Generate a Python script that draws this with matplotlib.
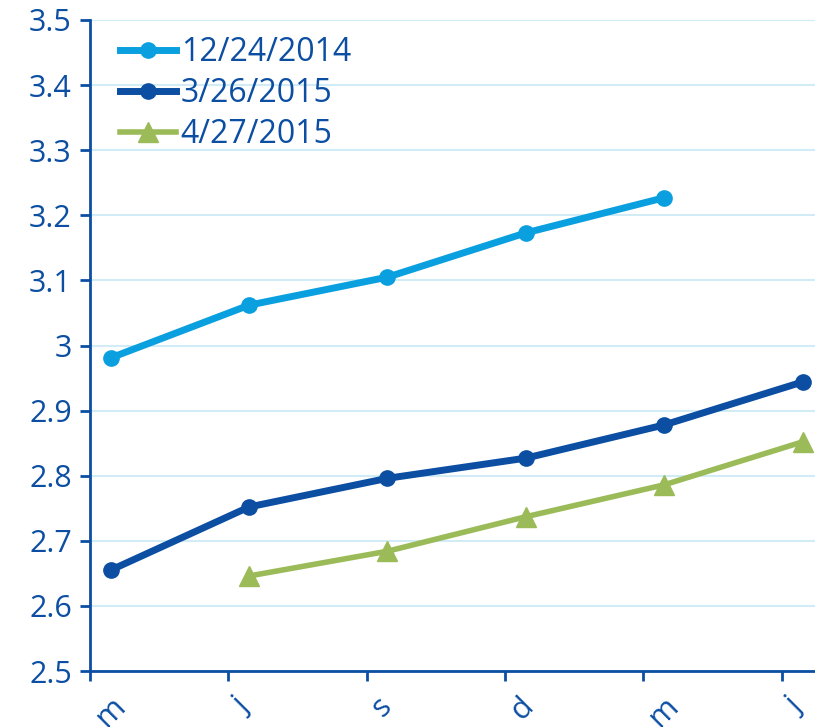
import matplotlib
matplotlib.use("Agg")
import matplotlib.pyplot as plt
import numpy as np

plt.rcParams['font.family'] = ['Open Sans', 'DejaVu Sans']

# quarter positions, points sit a little after the tick
tick_labels = ['m', 'j', 's', 'd', 'm', 'j']
offset = 0.15

dec24 = [2.981, 3.062, 3.105, 3.173, 3.227]
mar26 = [2.655, 2.752, 2.796, 2.827, 2.878, 2.944]
apr27 = [2.646, 2.684, 2.737, 2.786, 2.852]

dark = '#0b4ea2'
light = '#0aa0e0'
green = '#9bbb59'
grid_c = '#d2ecf7'

fig = plt.figure(figsize=(8.15, 7.27), dpi=100)
ax = fig.add_axes([0.1104, 0.077, 0.8896, 0.8955])

x1 = np.arange(len(dec24)) + offset
x2 = np.arange(len(mar26)) + offset
x3 = np.arange(1, 1 + len(apr27)) + offset

ax.plot(x1, dec24, color=light, lw=5, marker='o', ms=11, label='12/24/2014', zorder=3)
ax.plot(x2, mar26, color=dark, lw=5, marker='o', ms=11, label='3/26/2015', zorder=3)
ax.plot(x3, apr27, color=green, lw=4, marker='^', ms=14, label='4/27/2015', zorder=3)

ax.set_ylim(2.5, 3.5)
ax.set_xlim(0, 5.24)
yt = np.round(np.arange(2.5, 3.51, 0.1), 1)
ax.set_yticks(yt)
ax.set_yticklabels(['3' if abs(v - 3) < 1e-9 else '%.1f' % v for v in yt])
ax.set_xticks(np.arange(len(tick_labels)))
ax.set_xticklabels(tick_labels, rotation=45, ha='left', va='top')

ax.grid(axis='y', color=grid_c, lw=1.5, zorder=0)
for s in ['top', 'right']:
    ax.spines[s].set_visible(False)
for s in ['left', 'bottom']:
    ax.spines[s].set_color(dark)
    ax.spines[s].set_linewidth(2)
ax.tick_params(axis='both', colors=dark, labelsize=22, width=2, length=7)
ax.tick_params(axis='x', pad=8)
ax.tick_params(axis='y', pad=6)

leg = ax.legend(loc='upper left', frameon=False, fontsize=23, handlelength=1.75,
                handletextpad=0.15, labelspacing=0.25, borderaxespad=0.2,
                bbox_to_anchor=(0.015, 1.005))
for t in leg.get_texts():
    t.set_color(dark)

fig.savefig('out.png', dpi=100)
